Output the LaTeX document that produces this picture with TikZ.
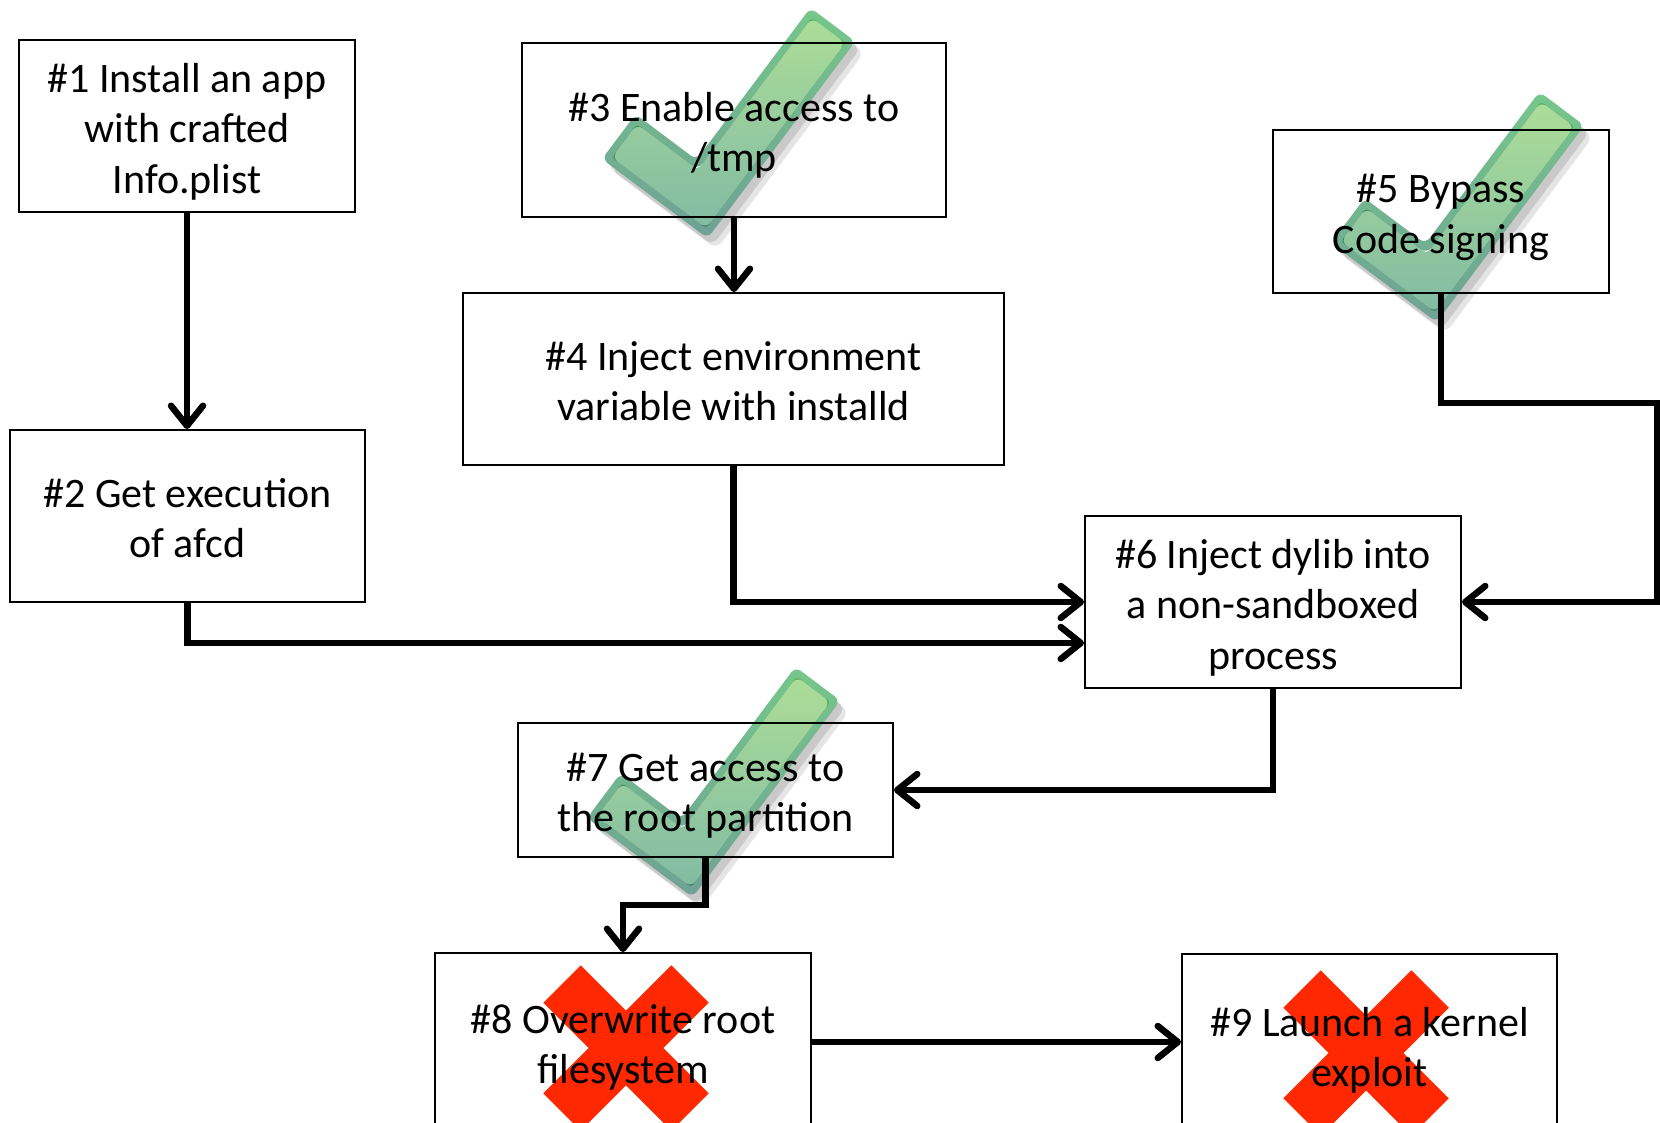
\documentclass[tikz,border=0pt]{standalone}
\usepackage{fontspec}
\setmainfont{Carlito}
\usetikzlibrary{arrows.meta,calc}
\definecolor{crossred}{RGB}{255,40,0}
\definecolor{chkBtop}{RGB}{118,200,138}
\definecolor{chkBmid}{RGB}{110,186,146}
\definecolor{chkBbot}{RGB}{110,160,150}
\definecolor{chkFtop}{RGB}{176,224,150}
\definecolor{chkFmid}{RGB}{136,214,162}
\definecolor{chkFbot}{RGB}{125,184,165}
\tikzset{
  checkmark/.pic={
    % soft shadow, kept outside the mark itself
    \begin{scope}[even odd rule]
      \clip[rotate=53.13, rounded corners=7pt]
        (-400,-400) rectangle (400,400)
        (-28,28) -- (218,28) -- (218,-28) -- (28,-28) -- (28,-104) -- (-28,-104) -- cycle;
      \fill[black, opacity=0.10, shift={(9,11)}, rotate=53.13, rounded corners=9pt]
        (-28,28) -- (218,28) -- (218,-28) -- (28,-28) -- (28,-104) -- (-28,-104) -- cycle;
      \fill[black, opacity=0.12, shift={(5,7)}, rotate=53.13, rounded corners=8pt]
        (-28,28) -- (218,28) -- (218,-28) -- (28,-28) -- (28,-104) -- (-28,-104) -- cycle;
    \end{scope}
    % rim
    \begin{scope}[even odd rule, blend mode=multiply]
      \clip[rotate=53.13, rounded corners=7pt]
        (-28,28) -- (218,28) -- (218,-28) -- (28,-28) -- (28,-104) -- (-28,-104) -- cycle
        (-21,21) -- (211,21) -- (211,-21) -- (21,-21) -- (21,-97) -- (-21,-97) -- cycle;
      \shade[top color=chkBtop, middle color=chkBmid, bottom color=chkBbot]
        (-110,-200) rectangle (165,50);
    \end{scope}
    % body
    \begin{scope}[blend mode=multiply]
      \clip[rotate=53.13, rounded corners=4pt]
        (-21,21) -- (211,21) -- (211,-21) -- (21,-21) -- (21,-97) -- (-21,-97) -- cycle;
      \shade[top color=chkFtop, middle color=chkFmid, bottom color=chkFbot]
        (-110,-200) rectangle (165,50);
    \end{scope}
  }
}
\newcommand{\boxtext}[1]{\raisebox{-6.5pt}[\height][\depth]{\begin{tabular}{@{}c@{}}#1\end{tabular}}}
\begin{document}
\begin{tikzpicture}[x=1pt,y=-1pt,
  box/.style={draw, line width=2pt, inner sep=0pt,
    font=\fontsize{42}{50.5}\selectfont},
  conn/.style={line width=6.5pt,
    -{Straight Barb[length=20pt,width=32pt,line width=6.5pt,round]}},
  xmark/.style={line width=53pt, crossred},
]
\clip (0,0) rectangle (1660,1123);
\fill[white] (0,0) rectangle (1660,1123);

% red crosses (behind the text)
\draw[xmark] (562,984) -- (690,1112);
\draw[xmark] (690,984) -- (562,1112);
\draw[xmark] (1302,989) -- (1430,1117);
\draw[xmark] (1430,989) -- (1302,1117);

% boxes
\node[box, minimum width=336pt, minimum height=172pt] (b1) at (187,126)
  {\boxtext{\#1 Install an app\\with crafted\\Info.plist}};
\node[box, minimum width=355pt, minimum height=172pt] (b2) at (187.5,516)
  {\boxtext{\#2 Get execution\\of afcd}};
\node[box, minimum width=424pt, minimum height=174pt] (b3) at (734,130)
  {\boxtext{\#3 Enable access to\\/tmp}};
\node[box, minimum width=541pt, minimum height=172pt] (b4) at (733.5,379)
  {\boxtext{\#4 Inject environment\\variable with installd}};
\node[box, minimum width=336pt, minimum height=163pt] (b5) at (1441,211.5)
  {\boxtext{\#5 Bypass\\Code signing}};
\node[box, minimum width=376pt, minimum height=172pt] (b6) at (1273,602)
  {\boxtext{\#6 Inject dylib into\\a non-sandboxed\\process}};
\node[box, minimum width=375pt, minimum height=134pt] (b7) at (705.5,790)
  {\boxtext{\#7 Get access to\\the root partition}};
\node[box, minimum width=376pt, minimum height=178pt] (b8) at (623,1042)
  {\boxtext{\#8 Overwrite root\\filesystem}};
\node[box, minimum width=375pt, minimum height=182pt] (b9) at (1369.5,1045)
  {\boxtext{\#9 Launch a kernel\\exploit}};

% check marks (over the boxes and text)
\pic at (702,199) {checkmark};
\pic at (1431,283) {checkmark};
\pic at (687,858) {checkmark};

% connectors
\coordinate (r5) at (1657,403);
\coordinate (m78) at ($(b7.south)!0.5!(b8.north)$);
\draw[conn] (b1.south) -- (b1.south |- b2.north);
\draw[conn] (b3.south) -- (b3.south |- b4.north);
\draw[conn] (b4.south) |- (b6.west);
\draw[conn] (b2.south) |- ([yshift=-41pt]b6.west);
\draw[conn] (b5.south) |- (r5) |- (b6.east);
\draw[conn] (b6.south) |- (b7.east);
\draw[conn] (b7.south) |- (m78) -| (b8.north);
\draw[conn] (b8.east) -- (b8.east -| b9.west);
\end{tikzpicture}
\end{document}
